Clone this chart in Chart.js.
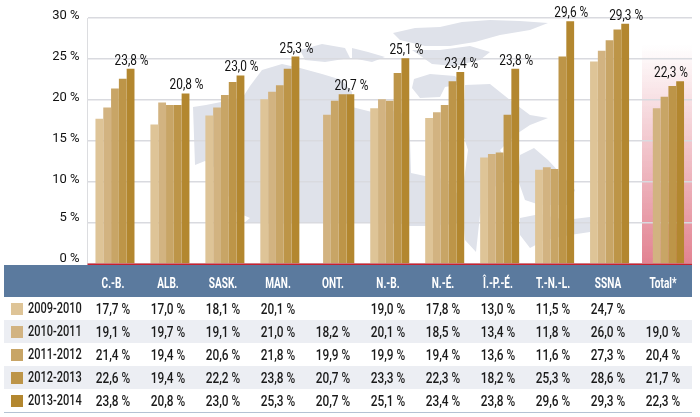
<!DOCTYPE html>
<html lang="fr">
<head>
<meta charset="utf-8">
<title>Graphique</title>
<script src="https://cdn.jsdelivr.net/npm/chart.js@4"></script>
<style>
  html, body { margin: 0; padding: 0; background: #fff; }
  #wrap { position: relative; width: 700px; height: 417px; overflow: hidden; }
  #chart { position: absolute; left: 0; top: 0; }
  #table { position: absolute; left: 0; top: 0; width: 700px; height: 417px; font-family: Roboto, sans-serif; color: #1a1a1a; }
  .band { position: absolute; left: 3.5px; width: 688px; }
  .cell { position: absolute; width: 60px; margin-left: -30px; text-align: center; font-size: 15px; font-weight: 500; line-height: 16px; white-space: nowrap; transform: scaleX(0.79); }
  .head { color: #fff; font-weight: 700; font-size: 15px; transform: scaleX(0.67); }
  .year { position: absolute; left: 28px; font-size: 14.5px; font-weight: 500; line-height: 16px; white-space: nowrap; transform: scaleX(0.76); transform-origin: left center; }
  .swatch { position: absolute; left: 11px; width: 12px; height: 12px; }
</style>
</head>
<body>
<div id="wrap">
  <canvas id="chart" width="700" height="417"></canvas>
  <div id="table"></div>
</div>
<script>
const categories = ['C.-B.', 'ALB.', 'SASK.', 'MAN.', 'ONT.', 'N.-B.', 'N.-É.', 'Î.-P.-É.', 'T.-N.-L.', 'SSNA', 'Total*'];
const years = ['2009-2010', '2010-2011', '2011-2012', '2012-2013', '2013-2014'];
const values2009 = [17.7, 17.0, 18.1, 20.1, null, 19.0, 17.8, 13.0, 11.5, 24.7, null];
const values2010 = [19.1, 19.7, 19.1, 21.0, 18.2, 20.1, 18.5, 13.4, 11.8, 26.0, 19.0];
const values2011 = [21.4, 19.4, 20.6, 21.8, 19.9, 19.9, 19.4, 13.6, 11.6, 27.3, 20.4];
const values2012 = [22.6, 19.4, 22.2, 23.8, 20.7, 23.3, 22.3, 18.2, 25.3, 28.6, 21.7];
const values2013 = [23.8, 20.8, 23.0, 25.3, 20.7, 25.1, 23.4, 23.8, 29.6, 29.3, 22.3];
const colors = ['#dec497', '#d2b381', '#c8a566', '#bd9548', '#b3872f'];
const allValues = [values2009, values2010, values2011, values2012, values2013];

// rough outline of the map behind the bars (decoration only)
const mapShapes = [
  [[193,107],[206,105],[226,101],[243,97],[250,86],[262,70],[282,64],[300,68],[322,74],[342,80],[352,92],[352,107],[372,112],[398,111],[409,118],[410,140],[411,173],[425,176],[440,178],[452,186],[462,201],[466,215],[455,224],[430,226],[410,226],[398,223],[244,223],[250,218],[236,212],[215,168],[205,161],[195,165]],
  [[393,33],[415,28],[440,27],[462,22],[490,20],[520,21],[548,23],[530,30],[500,35],[475,42],[450,46],[425,46],[400,40]],
  [[352,48],[368,52],[385,57],[372,62],[352,58]],
  [[412,50],[440,50],[470,46],[490,52],[480,60],[455,66],[432,64]],
  [[414,79],[430,74],[455,76],[463,84],[445,87],[440,97],[420,98],[412,88]],
  [[300,50],[322,44],[345,48],[350,58],[325,62],[305,60]],
  [[465,85],[490,84],[510,100],[530,115],[548,118],[530,125],[515,135],[500,150],[510,168],[505,180],[490,190],[480,215],[476,252],[465,240],[462,205],[464,180],[468,150],[460,125],[464,105]],
  [[520,155],[534,148],[548,160],[562,175],[575,190],[568,205],[540,205],[525,200],[518,180]],
  [[520,218],[540,214],[565,220],[590,217],[590,232],[570,235],[545,240],[530,248],[520,235]]
];

const backdrop = {
  id: 'backdrop',
  beforeDraw(chart) {
    const { ctx, chartArea } = chart;
    ctx.save();
    ctx.fillStyle = '#dfe2ea';
    mapShapes.forEach(shape => {
      ctx.beginPath();
      shape.forEach((p, i) => i ? ctx.lineTo(p[0], p[1]) : ctx.moveTo(p[0], p[1]));
      ctx.closePath();
      ctx.fill();
    });
    const g = ctx.createLinearGradient(0, 45, 0, chartArea.bottom);
    g.addColorStop(0, 'rgba(226,130,145,0)');
    g.addColorStop(1, 'rgba(226,130,145,1)');
    ctx.fillStyle = g;
    ctx.fillRect(642, 45, chartArea.right - 642, chartArea.bottom - 45);
    ctx.restore();
  }
};

const lastLabels = {
  id: 'lastLabels',
  afterDatasetsDraw(chart) {
    const { ctx, chartArea } = chart;
    const meta = chart.getDatasetMeta(4);
    ctx.save();
    ctx.font = '15px Roboto, sans-serif';
    ctx.fillStyle = '#111';
    ctx.textAlign = 'center';
    ctx.textBaseline = 'alphabetic';
    values2013.forEach((v, i) => {
      const bar = meta.data[i];
      const x = Math.min(bar.x + 1, chartArea.right - 21);
      ctx.save();
      ctx.translate(x, bar.y - 4);
      ctx.scale(0.79, 1);
      ctx.fillText(v.toFixed(1).replace('.', ',') + ' %', 0, 0);
      ctx.restore();
    });
    // red base line
    ctx.fillStyle = '#c8202f';
    ctx.fillRect(chartArea.left, chartArea.bottom - 0.5, chartArea.right - chartArea.left, 2);
    ctx.restore();
  }
};

const chart = new Chart(document.getElementById('chart'), {
  type: 'bar',
  data: {
    labels: categories,
    datasets: years.map((y, i) => ({ label: y, data: allValues[i], backgroundColor: colors[i] }))
  },
  options: {
    responsive: false,
    animation: false,
    layout: { padding: { top: 18, right: 8, bottom: 153 } },
    categoryPercentage: 0.71,
    barPercentage: 1,
    plugins: { legend: { display: false }, tooltip: { enabled: false } },
    scales: {
      x: { display: false },
      y: {
        min: 0,
        max: 30,
        afterFit(scale) { scale.width = 87.5; },
        border: { color: '#dcdde0', width: 1 },
        grid: { color: '#d9dadf', lineWidth: 1.5, drawTicks: false },
        ticks: {
          stepSize: 5,
          padding: 8,
          labelOffset: -2,
          color: '#111',
          // the two lowest labels sit higher: an empty second line lifts them
          font: c => ({ family: 'Roboto, sans-serif', size: 13, lineHeight: c.tick && c.tick.value <= 5 ? '7px' : 1.2 }),
          callback: v => v <= 5 ? [v + ' %', ''] : v + ' %'
        }
      }
    }
  },
  plugins: [backdrop, lastLabels]
});

// table under the chart
const table = document.getElementById('table');
const rowTop = 297;
const rowHeight = 23.1;
function addDiv(cls, css, text) {
  const d = document.createElement('div');
  d.className = cls;
  Object.assign(d.style, css);
  if (text) d.textContent = text;
  table.appendChild(d);
}
addDiv('band', { top: '264.5px', height: '32.5px', background: '#5b7a9e' });
years.forEach((y, r) => {
  const top = rowTop + r * rowHeight;
  if (r % 2 === 1) addDiv('band', { top: top + 'px', height: rowHeight + 'px', background: '#eceef3' });
  addDiv('swatch', { top: (top + 5.5) + 'px', background: colors[r] });
  addDiv('year', { top: (top + 3.5) + 'px' }, y);
});
addDiv('band', { top: '412px', height: '1px', background: '#b4c2d3' });
categories.forEach((c, i) => {
  const x = chart.scales.x.getPixelForValue(i) - 1.5;
  addDiv('cell head', { left: x + 'px', top: '275px' }, c);
  allValues.forEach((vals, r) => {
    if (vals[i] === null) return;
    addDiv('cell', { left: x + 'px', top: (rowTop + r * rowHeight + 3.5) + 'px' }, vals[i].toFixed(1).replace('.', ',') + ' %');
  });
});
</script>
</body>
</html>
